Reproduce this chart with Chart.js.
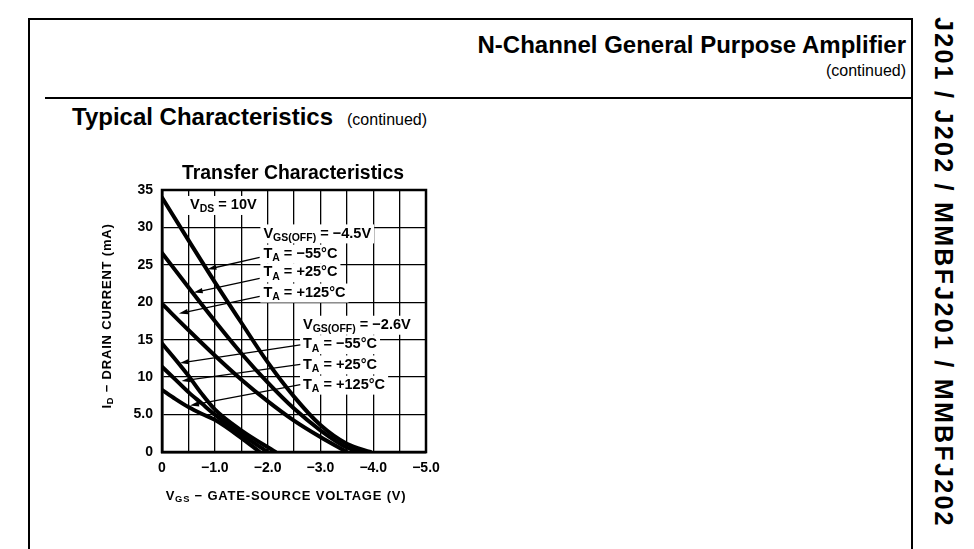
<!DOCTYPE html>
<html>
<head>
<meta charset="utf-8">
<script src="https://cdn.jsdelivr.net/npm/chart.js@4.4.1/dist/chart.umd.min.js"></script>
<style>
  body { margin: 0; background: #fff; font-family: "Liberation Sans", Arial, sans-serif; }
  #page { position: relative; width: 974px; height: 549px; overflow: hidden; }
  .abs { position: absolute; white-space: nowrap; color: #000; }
  #frame { left: 28px; top: 18px; width: 885px; height: 560px; border: 2px solid #000; box-sizing: border-box; }
  #head { right: 68px; top: 31px; font-weight: bold; font-size: 24px; }
  #head2 { right: 68px; top: 62px; font-size: 16px; }
  #rule { left: 45px; top: 97px; width: 866px; height: 2px; background: #000; }
  #sect { left: 72px; top: 103px; font-weight: bold; font-size: 24px; }
  #sect span { font-weight: normal; font-size: 16px; margin-left: 14px; }
  #side { left: 929px; top: 17px; writing-mode: vertical-rl; font-weight: bold; font-size: 25px; letter-spacing: 2.3px; }
  #wrap { position: absolute; left: 90px; top: 150px; width: 360px; height: 360px; }
</style>
</head>
<body>
<div id="page">
  <div id="frame" class="abs"></div>
  <div id="head" class="abs">N-Channel General Purpose Amplifier</div>
  <div id="head2" class="abs">(continued)</div>
  <div id="rule" class="abs"></div>
  <div id="sect" class="abs">Typical Characteristics<span>(continued)</span></div>
  <div id="side" class="abs">J201 / J202 / MMBFJ201 / MMBFJ202</div>
  <div id="wrap"><canvas id="tChart" width="360" height="360"></canvas></div>
</div>
<script>
// Curve data, VGS(OFF) = -4.5V group
var vgsHigh = [0, -0.5, -1.0, -1.5, -2.0, -2.5, -3.0, -3.5];
var idHighM55 = [34.0, 28.3, 22.7, 17.3, 12.0, 7.4, 3.6, 1.1];
var idHigh25 = [26.6, 22.0, 17.5, 13.2, 9.3, 5.8, 2.9, 0.6];
var idHigh125 = [19.8, 16.3, 12.9, 9.7, 6.8, 4.2, 2.0, 0];
var endHigh = [-3.95, -3.75, -3.5];

// Curve data, VGS(OFF) = -2.6V group
var vgsLow = [0, -0.25, -0.5, -0.75, -1.0, -1.5];
var idLowM55 = [14.5, 12.4, 10.2, 7.8, 5.7, 2.9];
var idLow25 = [11.4, 9.7, 8.0, 6.5, 5.0, 2.4];
var idLow125 = [8.3, 7.1, 6.0, 5.1, 4.3, 1.9];
var endLow = [-2.15, -2.0, -1.85];

var xTicks = [0, -1.0, -2.0, -3.0, -4.0, -5.0];
var yTicks = [0, 5, 10, 15, 20, 25, 30, 35];

function pts(xs, ys, end) {
  var out = [];
  for (var i = 0; i < xs.length; i++) {
    if (ys[i] > 0) out.push({x: xs[i], y: ys[i]});
  }
  out.push({x: end, y: 0});
  return out;
}

function curve(data) {
  return {
    data: data,
    showLine: true,
    borderColor: '#000',
    borderWidth: 4,
    pointRadius: 0,
    cubicInterpolationMode: 'monotone',
    borderCapStyle: 'round'
  };
}

// Labels and arrows, in data units
var labels = [
  {x: -0.53, y: 33.0, parts: [['V'], ['DS', 1], [' = 10V']]},
  {x: -1.92, y: 29.2, parts: [['V'], ['GS(OFF)', 1], [' = \u22124.5V']]},
  {x: -1.92, y: 26.5, parts: [['T'], ['A', 1], [' = \u221255\u00b0C']]},
  {x: -1.92, y: 24.0, parts: [['T'], ['A', 1], [' = +25\u00b0C']]},
  {x: -1.92, y: 21.3, parts: [['T'], ['A', 1], [' = +125\u00b0C']]},
  {x: -2.67, y: 17.0, parts: [['V'], ['GS(OFF)', 1], [' = \u22122.6V']]},
  {x: -2.67, y: 14.4, parts: [['T'], ['A', 1], [' = \u221255\u00b0C']]},
  {x: -2.67, y: 11.7, parts: [['T'], ['A', 1], [' = +25\u00b0C']]},
  {x: -2.67, y: 9.0, parts: [['T'], ['A', 1], [' = +125\u00b0C']]}
];
var arrows = [
  [-1.85, 26.0, -0.86, 24.4],
  [-1.85, 23.2, -0.6, 21.3],
  [-1.85, 20.8, -0.32, 18.5],
  [-2.62, 14.3, -0.34, 11.9],
  [-2.62, 11.7, -0.37, 9.5],
  [-2.62, 9.0, -0.53, 6.2]
];

var FONT = '"Liberation Sans", Arial, sans-serif';

function partsWidth(ctx, parts, size, sq) {
  var w = 0;
  parts.forEach(function(p) {
    ctx.font = 'bold ' + (p[1] ? size * 0.72 : size) + 'px ' + FONT;
    w += ctx.measureText(p[0]).width;
  });
  return w * sq;
}

function drawParts(ctx, parts, x, y, size, sq) {
  ctx.save();
  ctx.translate(x, y);
  ctx.scale(sq, 1);
  ctx.fillStyle = '#000';
  ctx.textBaseline = 'middle';
  ctx.textAlign = 'left';
  var cx = 0;
  parts.forEach(function(p) {
    ctx.font = 'bold ' + (p[1] ? size * 0.72 : size) + 'px ' + FONT;
    ctx.fillText(p[0], cx, p[1] ? size * 0.3 : 0);
    cx += ctx.measureText(p[0]).width;
  });
  ctx.restore();
}

var decor = {
  id: 'decor',
  beforeDatasetsDraw: function(chart) {
    var ctx = chart.ctx, a = chart.chartArea;
    var xs = chart.scales.x, ys = chart.scales.y;
    ctx.save();
    ctx.lineWidth = 2.5;
    ctx.strokeStyle = '#000';
    ctx.strokeRect(a.left, a.top, a.right - a.left, a.bottom - a.top);
    labels.forEach(function(l) {
      var px = xs.getPixelForValue(l.x), py = ys.getPixelForValue(l.y);
      var w = partsWidth(ctx, l.parts, 15, 0.97);
      ctx.fillStyle = '#fff';
      ctx.fillRect(px - 3, py - 9, w + 6, 19);
      drawParts(ctx, l.parts, px, py, 15, 0.97);
    });
    ctx.restore();
  },
  afterDatasetsDraw: function(chart) {
    var ctx = chart.ctx;
    var xs = chart.scales.x, ys = chart.scales.y;
    ctx.save();
    ctx.strokeStyle = '#000';
    ctx.fillStyle = '#000';
    ctx.lineWidth = 1.3;
    arrows.forEach(function(r) {
      var x1 = xs.getPixelForValue(r[0]), y1 = ys.getPixelForValue(r[1]);
      var x2 = xs.getPixelForValue(r[2]), y2 = ys.getPixelForValue(r[3]);
      var ang = Math.atan2(y2 - y1, x2 - x1);
      ctx.beginPath();
      ctx.moveTo(x1, y1);
      ctx.lineTo(x2 - 6 * Math.cos(ang), y2 - 6 * Math.sin(ang));
      ctx.stroke();
      ctx.beginPath();
      ctx.moveTo(x2, y2);
      ctx.lineTo(x2 - 9 * Math.cos(ang) + 2.6 * Math.sin(ang), y2 - 9 * Math.sin(ang) - 2.6 * Math.cos(ang));
      ctx.lineTo(x2 - 9 * Math.cos(ang) - 2.6 * Math.sin(ang), y2 - 9 * Math.sin(ang) + 2.6 * Math.cos(ang));
      ctx.closePath();
      ctx.fill();
    });
    ctx.restore();
  },
  afterDraw: function(chart) {
    var ctx = chart.ctx, a = chart.chartArea;
    // title
    ctx.save();
    ctx.fillStyle = '#000';
    ctx.textAlign = 'center';
    ctx.textBaseline = 'middle';
    ctx.translate((a.left + a.right) / 2 - 1, 23);
    ctx.scale(0.97, 1);
    ctx.font = 'bold 20px ' + FONT;
    ctx.fillText('Transfer Characteristics', 0, 0);
    ctx.restore();
    // axis titles
    ctx.save();
    ctx.letterSpacing = '0.8px';
    var xt = [['V'], ['GS', 1], [' \u2212 GATE-SOURCE VOLTAGE (V)']];
    var w = partsWidth(ctx, xt, 13, 1);
    drawParts(ctx, xt, (a.left + a.right) / 2 - 8 - w / 2, 346, 13, 1);
    ctx.translate(17, (a.top + a.bottom) / 2 - 5);
    ctx.rotate(-Math.PI / 2);
    var yt = [['I'], ['D', 1], [' \u2212 DRAIN CURRENT (mA)']];
    w = partsWidth(ctx, yt, 13, 1);
    drawParts(ctx, yt, -w / 2, 0, 13, 1);
    ctx.restore();
  }
};

window.onload = function() {
  var ctx = document.getElementById('tChart').getContext('2d');
  var tChart = new Chart(ctx, {
    type: 'scatter',
    data: {
      datasets: [
        curve(pts(vgsHigh, idHighM55, endHigh[0])),
        curve(pts(vgsHigh, idHigh25, endHigh[1])),
        curve(pts(vgsHigh, idHigh125, endHigh[2])),
        curve(pts(vgsLow, idLowM55, endLow[0])),
        curve(pts(vgsLow, idLow25, endLow[1])),
        curve(pts(vgsLow, idLow125, endLow[2]))
      ]
    },
    options: {
      responsive: false,
      animation: false,
      layout: { padding: { left: 0, top: 40, right: 24, bottom: 28 } },
      plugins: { legend: { display: false }, tooltip: { enabled: false } },
      scales: {
        x: {
          type: 'linear',
          min: -5,
          max: 0,
          reverse: true,
          afterFit: function(s) { s.height = 30; },
          grid: { color: '#000', lineWidth: 1.3, drawTicks: false },
          border: { color: '#000', width: 2.5 },
          ticks: {
            stepSize: 0.5,
            autoSkip: false,
            maxRotation: 0,
            padding: 8,
            color: '#000',
            font: { family: FONT, weight: 'bold', size: 14 },
            callback: function(value) {
              if (xTicks.indexOf(value) < 0) return '';
              return value === 0 ? '0' : '\u2212' + Math.abs(value).toFixed(1);
            }
          }
        },
        y: {
          min: 0,
          max: 35,
          afterFit: function(s) { s.width = 72; },
          grid: { color: '#000', lineWidth: 1.3, drawTicks: false },
          border: { color: '#000', width: 2.5 },
          ticks: {
            stepSize: 5,
            padding: 9,
            color: '#000',
            font: { family: FONT, weight: 'bold', size: 14 },
            callback: function(value) {
              if (yTicks.indexOf(value) < 0) return '';
              return value === 5 ? '5.0' : String(value);
            }
          }
        }
      }
    },
    plugins: [decor]
  });
};
</script>
</body>
</html>
